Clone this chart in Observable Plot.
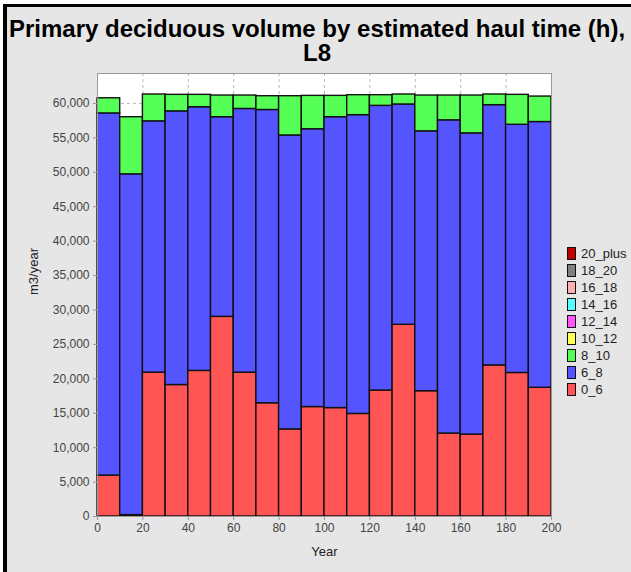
<!DOCTYPE html>
<html>
<head>
<meta charset="utf-8">
<script src="https://cdn.jsdelivr.net/npm/d3@7"></script>
<script src="https://cdn.jsdelivr.net/npm/@observablehq/plot@0.6"></script>
<style>
  html, body { margin: 0; padding: 0; background: #fff; width: 631px; height: 572px; overflow: hidden;
    font-family: "Liberation Sans", Arial, sans-serif; }
  #panel { position: absolute; left: 3px; top: 4px; width: 640px; height: 580px; background: #e6e6e6;
    border-left: 4px solid #000; border-top: 3px solid #000; }
  .title { position: absolute; left: 0; width: 634px; text-align: center; font-weight: bold;
    font-size: 24px; line-height: 24px; height: 24px; color: #000; white-space: nowrap; }
  #chart { position: absolute; left: 0; top: 0; }
  #legend { position: absolute; left: 567px; top: 245px; font-size: 13px; color: #222; }
  .item { height: 17px; display: flex; align-items: center; }
  .sw { width: 7px; height: 11px; border: 1px solid #111; margin-right: 5px; }
</style>
</head>
<body>
<div id="panel"></div>
<div id="chart"></div>
<div class="title" style="top:17px">Primary deciduous volume by estimated haul time (h),</div>
<div class="title" style="top:41px">L8</div>
<div id="legend"></div>
<script>
// Start year of each 10-year period
const years = [0, 10, 20, 30, 40, 50, 60, 70, 80, 90, 100, 110, 120, 130, 140, 150, 160, 170, 180, 190];

// Haul-time classes (h), bottom of the stack first
const classes = ["0_6", "6_8", "8_10", "10_12", "12_14", "14_16", "16_18", "18_20", "20_plus"];
const classColors = ["#ff5555", "#5555ff", "#55ff55", "#ffff55", "#ff55ff", "#55ffff", "#ffafaf", "#808080", "#c00000"];

// Volume (m3/year) per class and period
const vol_0_6  = [5950, 200, 20900, 19100, 21150, 29000, 20900, 16450, 12650, 15900,
                  15750, 14900, 18300, 27850, 18200, 12050, 11900, 21950, 20850, 18700];
const vol_6_8  = [52600, 49500, 36500, 39750, 38300, 29000, 38300, 42600, 42700, 40350,
                  42250, 43400, 41350, 32000, 37750, 45500, 43750, 37800, 36050, 38600];
const vol_8_10 = [2200, 8300, 3900, 2400, 1800, 3150, 1950, 2000, 5700, 4850,
                  3100, 2900, 1550, 1450, 5200, 3600, 5500, 1550, 4350, 3700];
const vol_10_12 = years.map(() => 0);
const vol_12_14 = years.map(() => 0);
const vol_14_16 = years.map(() => 0);
const vol_16_18 = years.map(() => 0);
const vol_18_20 = years.map(() => 0);
const vol_20_plus = years.map(() => 0);
const series = [vol_0_6, vol_6_8, vol_8_10, vol_10_12, vol_12_14, vol_14_16, vol_16_18, vol_18_20, vol_20_plus];

const xTicks = [0, 20, 40, 60, 80, 100, 120, 140, 160, 180, 200];
const yTicks = [0, 5000, 10000, 15000, 20000, 25000, 30000, 35000, 40000, 45000, 50000, 55000, 60000];

// Stack the classes for each period
const rows = [];
years.forEach((yr, i) => {
  let base = 0;
  classes.forEach((key, k) => {
    const v = series[k][i];
    if (v > 0) rows.push({ x1: yr, x2: yr + 10, y1: base, y2: base + v, key });
    base += v;
  });
});

const chart = Plot.plot({
  width: 631,
  height: 572,
  marginLeft: 97,
  marginRight: 80,
  marginTop: 73,
  marginBottom: 56,
  style: { background: "transparent", fontFamily: "'Liberation Sans', Arial, sans-serif", fontSize: "12px", color: "#444", overflow: "visible" },
  x: { domain: [0, 200], label: null },
  y: { domain: [0, 64350], label: null },
  color: { domain: classes, range: classColors },
  marks: [
    Plot.frame({ fill: "white" }),
    Plot.gridX(xTicks, { stroke: "#b8b8b8", strokeOpacity: 1, strokeDasharray: "3,3" }),
    Plot.gridY(yTicks, { stroke: "#b8b8b8", strokeOpacity: 1, strokeDasharray: "3,3" }),
    Plot.rect(rows, { x1: "x1", x2: "x2", y1: "y1", y2: "y2", fill: "key", stroke: "#111", strokeWidth: 1.4 }),
    Plot.frame({ stroke: "#999" }),
    Plot.axisX(xTicks, { tickSize: 4, tickPadding: 3, stroke: "#999", fill: "#444", label: null }),
    Plot.axisY(yTicks, { tickSize: 4, tickPadding: 4, tickFormat: d3.format(","), stroke: "#999", fill: "#444", label: null }),
    Plot.text(["Year"], { frameAnchor: "bottom", dy: 35, lineAnchor: "middle", fontSize: 13, fill: "#222" }),
    Plot.text(["m3/year"], { frameAnchor: "left", dx: -64, rotate: -90, lineAnchor: "middle", fontSize: 13, fill: "#222" })
  ]
});
document.getElementById("chart").appendChild(chart);

// Legend, top class first
const legend = document.getElementById("legend");
classes.slice().reverse().forEach(key => {
  const item = document.createElement("div");
  item.className = "item";
  const sw = document.createElement("div");
  sw.className = "sw";
  sw.style.background = classColors[classes.indexOf(key)];
  const label = document.createElement("span");
  label.textContent = key;
  item.appendChild(sw);
  item.appendChild(label);
  legend.appendChild(item);
});
</script>
</body>
</html>
